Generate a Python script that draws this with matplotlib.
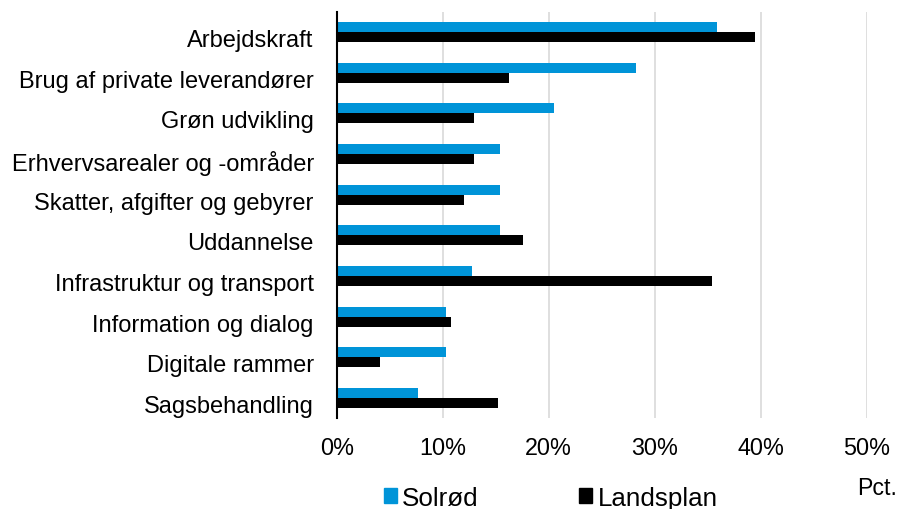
import matplotlib
matplotlib.use("Agg")
import matplotlib.pyplot as plt
import matplotlib.transforms as mtransforms
import numpy as np
from matplotlib.patches import Patch

plt.rcParams['font.family'] = ['Liberation Sans', 'DejaVu Sans']

# Data
categories = ["Arbejdskraft", "Brug af private leverandører", "Grøn udvikling",
              "Erhvervsarealer og -områder", "Skatter, afgifter og gebyrer",
              "Uddannelse", "Infrastruktur og transport", "Information og dialog",
              "Digitale rammer", "Sagsbehandling"]
solrod = [35.9, 28.2, 20.5, 15.4, 15.4, 15.4, 12.8, 10.3, 10.3, 7.7]
landsplan = [39.5, 16.3, 13.0, 13.0, 12.0, 17.6, 35.4, 10.8, 4.1, 15.2]
xticks = [0, 10, 20, 30, 40, 50]
xticklabels = ["0%", "10%", "20%", "30%", "40%", "50%"]

blue = "#0094D8"
black = "#000000"

fig = plt.figure(figsize=(8.99, 5.10), dpi=100)
ax = fig.add_axes([0.3745, 0.1778, 0.5895, 0.7972])

y = np.arange(len(categories))
h = 0.245
ax.barh(y - h / 2, solrod, height=h, color=blue, label="Solrød", zorder=3)
ax.barh(y + h / 2, landsplan, height=h, color=black, label="Landsplan", zorder=3)

ax.set_ylim(len(categories) - 0.5, -0.5)
ax.set_yticks(y)
ax.set_yticklabels(categories, fontsize=17)
ax.set_xlim(0, 50)
ax.set_xticks(xticks)
ax.set_xticklabels(xticklabels, fontsize=16.8)
ax.tick_params(axis="y", length=0, pad=16.5)
ax.tick_params(axis="x", length=0, pad=13)

# Excel places the category labels a little below the bar centres
shift = mtransforms.ScaledTranslation(0, -4 / 72, fig.dpi_scale_trans)
for lab in ax.get_yticklabels():
    lab.set_transform(lab.get_transform() + shift)

ax.grid(axis="x", color="#D9D9D9", linewidth=1.2, zorder=0)
for s in ["top", "right", "bottom"]:
    ax.spines[s].set_visible(False)
ax.spines["left"].set_linewidth(1.5)
ax.spines["left"].set_zorder(4)

handles = [Patch(color=blue, label="Solrød"), Patch(color=black, label="Landsplan")]
fig.legend(handles=handles, loc="center", bbox_to_anchor=(0.6125, 0.0225), ncol=2,
           frameon=False, fontsize=18.7, handlelength=0.52, handleheight=0.52,
           handletextpad=0.2, columnspacing=3.85, borderpad=0.2)

fig.text(0.9978, 0.0294, "Pct.", ha="right", va="baseline", fontsize=16.7)

fig.savefig("out.png", dpi=100)
